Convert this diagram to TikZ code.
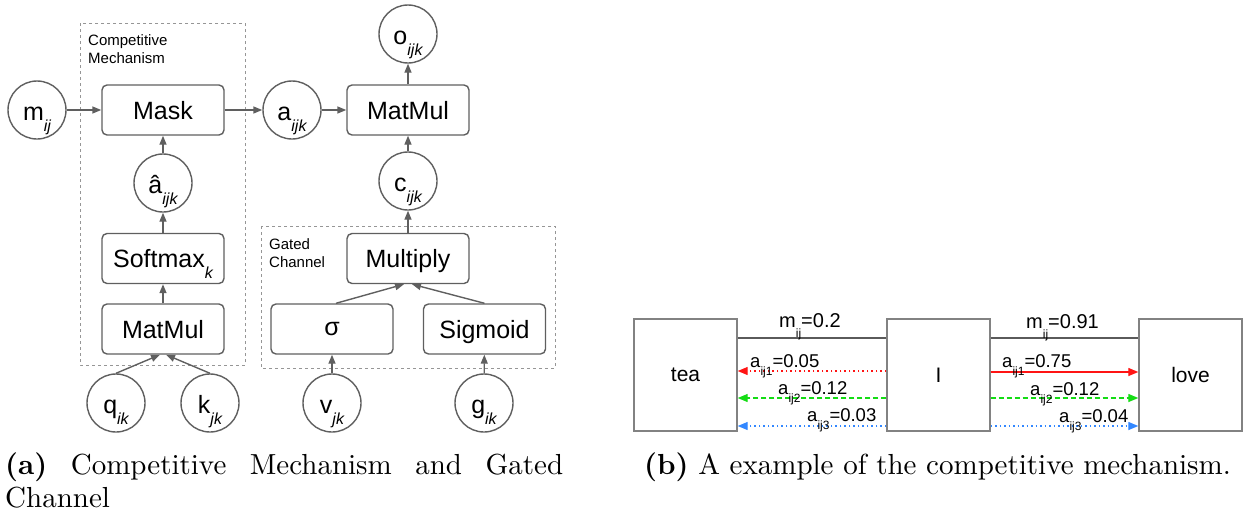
\documentclass[tikz,border=0pt]{standalone}
\usepackage{fontspec}
\newfontfamily\arial{Liberation Sans}
\newfontfamily\capfont[BoldFont=lmroman10-bold.otf]{lmroman10-regular.otf}
\usetikzlibrary{arrows.meta}
\definecolor{ink}{RGB}{95,95,95}
\definecolor{grpgray}{RGB}{150,150,150}
\definecolor{boxgray}{RGB}{130,130,130}
\definecolor{mgray}{RGB}{90,90,90}
\definecolor{attred}{RGB}{255,20,20}
\definecolor{attgreen}{RGB}{20,220,20}
\definecolor{attblue}{RGB}{50,135,255}
% italic subscript hanging below the baseline (left panel)
\newcommand\isub[2]{#1\raisebox{-11pt}[0pt][0pt]{\fontsize{16}{16}\selectfont\itshape #2}}
% upright small subscript (right panel)
\newcommand\usub[3]{#1\raisebox{-#3}[0pt][0pt]{\fontsize{12}{12}\selectfont #2}}
\tikzset{
  circ/.style={circle, draw=ink, line width=1.4pt, minimum size=58pt, inner sep=0pt,
    font=\fontsize{25}{25}\selectfont\arial, text height=21pt, text depth=0pt},
  rbox/.style={draw=ink, rounded corners=5pt, line width=1.4pt, minimum width=122pt,
    minimum height=50pt, inner sep=0pt, text depth=0pt,
    font=\fontsize{25}{25}\selectfont\arial},
  grp/.style={draw=grpgray, line width=1pt, dash pattern=on 3pt off 3pt},
  grplabel/.style={font=\fontsize{15}{18}\selectfont\arial, align=left, inner sep=0pt},
  flow/.style={draw=ink, line width=1.4pt, -{Triangle[length=9pt,width=7pt]}},
  wbox/.style={draw=boxgray, line width=1.4pt, minimum width=103pt, minimum height=112pt,
    inner sep=0pt, font=\fontsize{21}{21}\selectfont\arial},
  mline/.style={draw=mgray, line width=2.5pt},
  att/.style={line width=1.3pt, -{Triangle[length=10pt,width=8pt]}},
  dotline/.style={dash pattern=on 1.5pt off 3pt},
  dashline/.style={dash pattern=on 5pt off 3pt},
  vlabel/.style={anchor=base west, inner sep=0pt, font=\fontsize{18.5}{18.5}\selectfont\arial},
  mlabel/.style={anchor=base west, inner sep=0pt, font=\fontsize{20}{20}\selectfont\arial},
  captext/.style={anchor=base west, inner sep=0pt, font=\fontsize{29}{34}\selectfont\capfont},
}
\begin{document}
\begin{tikzpicture}[x=1pt,y=1pt]
\path[use as bounding box] (0,0) rectangle (1246,-514);

% ---------------- (a) competitive mechanism and gated channel
\draw[grp] (80,-23) rectangle (245,-365);
\draw[grp] (261,-226) rectangle (555,-368);
\node[grplabel, anchor=base west] (cmlbl) at (88,-63) {Competitive\\Mechanism};
\node[grplabel, anchor=base west] (gclbl) at (269,-267) {Gated\\Channel};

\node[circ] (m)    at (37,-110)    {\isub{m}{ij}};
\node[rbox] (mask) at (163,-110)   {Mask};
\node[circ] (a)    at (292,-110)   {\isub{a}{ijk}};
\node[rbox] (mm1)  at (408,-110)   {MatMul};
\node[circ] (o)    at (408,-34)    {\isub{o}{ijk}};
\node[circ] (c)    at (408,-181)   {\isub{c}{ijk}};
\node[circ] (ah)   at (163,-183)   {\isub{â}{ijk}};
\node[rbox] (soft) at (163,-258.5) {\isub{Softmax}{k}};
\node[rbox] (mm2)  at (163,-329)   {MatMul};
\node[circ] (q)    at (116,-403)   {\isub{q}{ik}};
\node[circ] (k)    at (210,-403)   {\isub{k}{jk}};
\node[rbox] (mul)  at (408,-258.5) {Multiply};
\node[rbox] (sig)  at (332,-329)   {σ};
\node[rbox] (sgm)  at (484.5,-329) {Sigmoid};
\node[circ] (v)    at (332,-403)   {\isub{v}{jk}};
\node[circ] (g)    at (484,-403)   {\isub{g}{ik}};

\draw[flow] (m) -- (mask);
\draw[flow] (mask) -- (a);
\draw[flow] (a) -- (mm1);
\draw[flow] (mm1) -- (o);
\draw[flow] (c) -- (mm1);
\draw[flow] (ah) -- (mask);
\draw[flow] (soft) -- (ah);
\draw[flow] (mm2) -- (soft);
\draw[flow] (q.north) -- ([xshift=-3pt]mm2.south);
\draw[flow] (k.north) -- ([xshift=3pt]mm2.south);
\draw[flow] (mul) -- (c);
\draw[flow] ([xshift=4pt]sig.north) -- ([xshift=-4pt]mul.south);
\draw[flow] (sgm.north) -- ([xshift=4pt]mul.south);
\draw[flow] (v) -- (sig);
\draw[flow] (g) -- (sgm);

% ---------------- (b) example of the competitive mechanism
\node[wbox] (tea)  at (685.5,-375)  {tea};
\node[wbox] (I)    at (938.5,-375)  {I};
\node[wbox] (love) at (1190.5,-375) {love};

\draw[mline] ([yshift=37pt]tea.east) -- ([yshift=37pt]I.west);
\draw[mline] ([yshift=37pt]I.east) -- ([yshift=37pt]love.west);
\node[mlabel] (mtea)  at (779,-327)  {\usub{m}{ij}{10pt}=0.2};
\node[mlabel] (mlove) at (1026,-328) {\usub{m}{ij}{10pt}=0.91};

\draw[att, attred, dotline]   ([yshift=4pt]I.west)   -- ([yshift=4pt]tea.east);
\draw[att, attgreen, dashline] ([yshift=-23pt]I.west) -- ([yshift=-23pt]tea.east);
\draw[att, attblue, dotline]  ([yshift=-51pt]I.west) -- ([yshift=-51pt]tea.east);
\node[vlabel] (t1) at (750,-367) {\usub{a}{ij1}{8pt}=0.05};
\node[vlabel] (t2) at (778,-394) {\usub{a}{ij2}{8pt}=0.12};
\node[vlabel] (t3) at (807,-421) {\usub{a}{ij3}{8pt}=0.03};

\draw[att, attred]             ([yshift=3pt]I.east)   -- ([yshift=3pt]love.west);
\draw[att, attgreen, dashline] ([yshift=-23pt]I.east) -- ([yshift=-23pt]love.west);
\draw[att, attblue, dotline]   ([yshift=-51pt]I.east) -- ([yshift=-51pt]love.west);
\node[vlabel] (l1) at (1002,-367) {\usub{a}{ij1}{8pt}=0.75};
\node[vlabel] (l2) at (1030,-395) {\usub{a}{ij2}{8pt}=0.12};
\node[vlabel] (l3) at (1059,-422) {\usub{a}{ij3}{8pt}=0.04};

% ---------------- captions
\node[captext] (capa1) at (5,-474) {\makebox[558pt][s]{\textbf{(a)} Competitive Mechanism and Gated}};
\node[captext] (capa2) at (5,-507) {Channel};
\node[captext] (capb)  at (644,-474) {\textbf{(b)} A example of the competitive mechanism.};
\end{tikzpicture}
\end{document}
